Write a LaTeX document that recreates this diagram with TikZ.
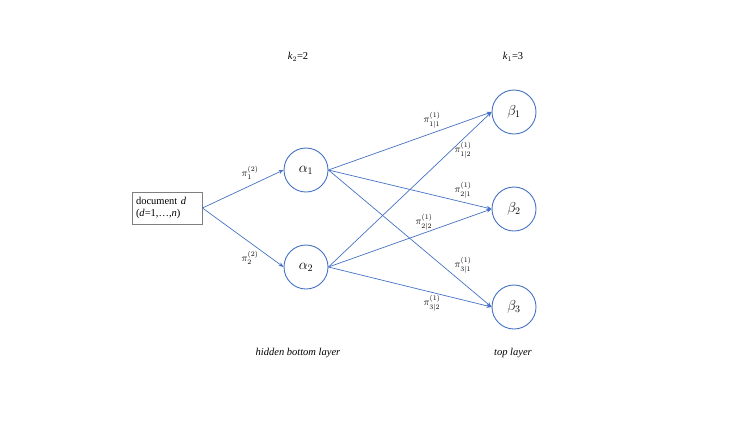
\documentclass[tikz,border=0pt]{standalone}
\usepackage{fontspec}
\setmainfont{Liberation Serif}
\usetikzlibrary{arrows.meta}
\definecolor{lineblue}{HTML}{4472C4}
\definecolor{boxgray}{HTML}{7F7F7F}
\tikzset{
  unit/.style={circle,draw=lineblue,line width=0.9pt,minimum size=44pt,inner sep=0pt,font=\fontsize{14}{16}\selectfont},
  docbox/.style={draw=boxgray,line width=0.9pt,minimum width=70pt,minimum height=32pt,inner sep=4pt,align=left,text width=62pt,font=\fontsize{10.5}{12.5}\selectfont},
  link/.style={draw=lineblue,line width=0.7pt,-{Stealth[length=5pt,width=4pt]}},
  plab/.style={font=\fontsize{10}{11}\selectfont,inner sep=0pt},
  head/.style={font=\fontsize{10.5}{12}\selectfont}
}
\begin{document}
\begin{tikzpicture}[x=1pt,y=-1pt]
\useasboundingbox (0,0) rectangle (747,421);
\node[docbox] (doc) at (167,208) {document \textit{d}\\(\textit{d}=1,\ldots,\textit{n})};
\node[unit] (a1) at (306,170) {$\alpha_1$};
\node[unit] (a2) at (306,267) {$\alpha_2$};
\node[unit] (b1) at (514,112) {$\beta_1$};
\node[unit] (b2) at (514,209) {$\beta_2$};
\node[unit] (b3) at (514,307) {$\beta_3$};
\node[head] (k2) at (298,57) {\textit{k}$_2$=2};
\node[head] (k1) at (513,57) {\textit{k}$_1$=3};
\node[head] (hb) at (298,353) {\textit{hidden bottom layer}};
\node[head] (tl) at (513,353) {\textit{top layer}};
\draw[link] (doc.east) -- (a1.west);
\draw[link] (doc.east) -- (a2.west);
\draw[link] (a1.east) -- (b1.west);
\draw[link] (a1.east) -- (b2.west);
\draw[link] (a1.east) -- (b3.west);
\draw[link] (a2.east) -- (b1.west);
\draw[link] (a2.east) -- (b2.west);
\draw[link] (a2.east) -- (b3.west);
\node[plab] (l1) at (250,173) {$\pi_1^{(2)}$};
\node[plab] (l2) at (250,258) {$\pi_2^{(2)}$};
\node[plab] (l11) at (432,120) {$\pi_{1|1}^{(1)}$};
\node[plab] (l12) at (463,150) {$\pi_{1|2}^{(1)}$};
\node[plab] (l21) at (463,190) {$\pi_{2|1}^{(1)}$};
\node[plab] (l22) at (424,222) {$\pi_{2|2}^{(1)}$};
\node[plab] (l31) at (463,265) {$\pi_{3|1}^{(1)}$};
\node[plab] (l32) at (432,303) {$\pi_{3|2}^{(1)}$};
\end{tikzpicture}
\end{document}
